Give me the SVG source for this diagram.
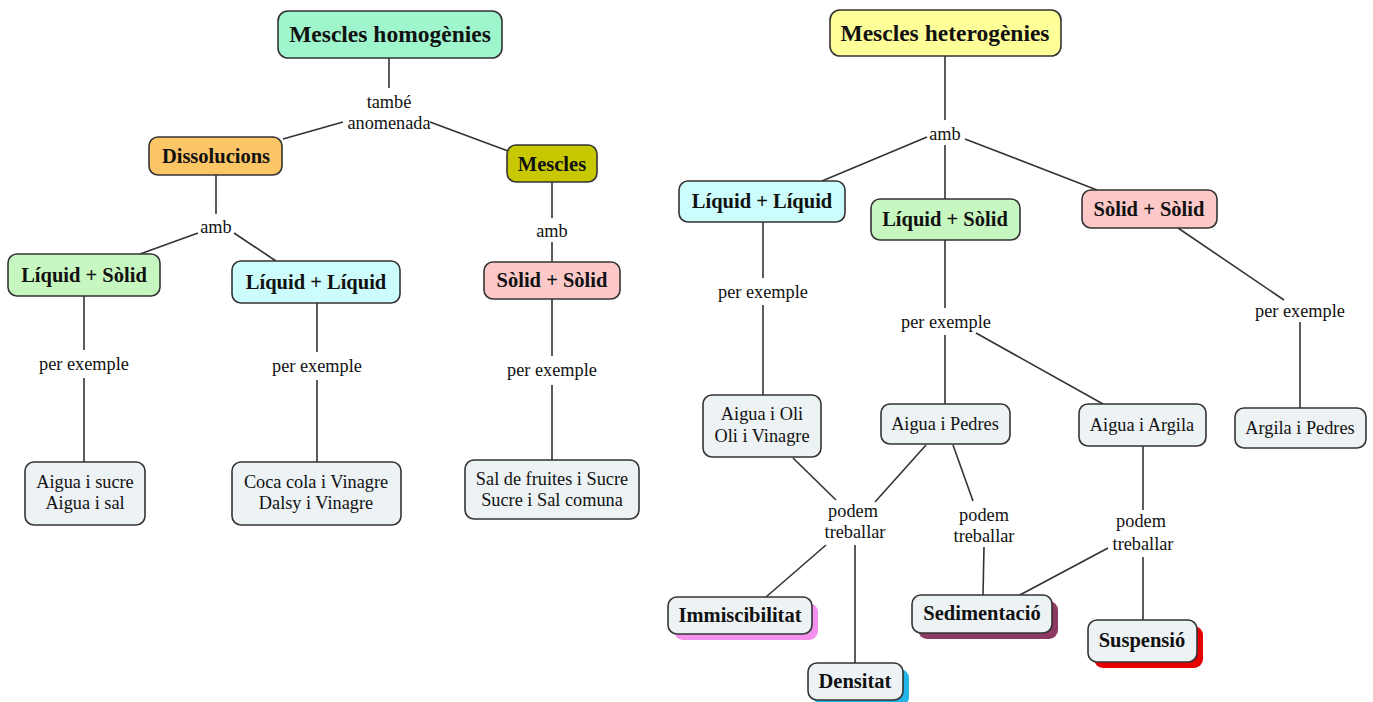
<svg xmlns="http://www.w3.org/2000/svg" width="1373" height="702" viewBox="0 0 1373 702">
<style>
.n{stroke:#333;stroke-width:1.6}
.leaf{fill:#edf2f4}
.t{font-family:"Liberation Serif","Times New Roman",serif;font-size:20.5px;font-weight:bold;fill:#111;text-anchor:middle}
.tt{font-family:"Liberation Serif","Times New Roman",serif;font-size:23.5px;font-weight:bold;fill:#111;text-anchor:middle}
.r{font-family:"Liberation Serif","Times New Roman",serif;font-size:18.3px;fill:#111;text-anchor:middle}
.c line{stroke:#333;stroke-width:1.6}
</style>
<rect width="1373" height="702" fill="#fff"/>
<g class="c" id="connectors">
<line x1="389" y1="58" x2="389" y2="88"/>
<line x1="343" y1="122" x2="283" y2="139"/>
<line x1="430" y1="122" x2="508" y2="151"/>
<line x1="216" y1="175" x2="216" y2="214"/>
<line x1="198" y1="233" x2="140" y2="254"/>
<line x1="234" y1="233" x2="276" y2="261"/>
<line x1="552" y1="182" x2="552" y2="218"/>
<line x1="552" y1="242" x2="552" y2="262"/>
<line x1="84" y1="296" x2="84" y2="350"/>
<line x1="84" y1="378" x2="84" y2="462"/>
<line x1="317" y1="303" x2="317" y2="352"/>
<line x1="317" y1="380" x2="317" y2="462"/>
<line x1="552" y1="299" x2="552" y2="356"/>
<line x1="552" y1="385" x2="552" y2="460"/>
<line x1="945" y1="56" x2="945" y2="120"/>
<line x1="927" y1="137" x2="822" y2="181"/>
<line x1="945" y1="145" x2="945" y2="199"/>
<line x1="965" y1="139" x2="1097" y2="190"/>
<line x1="763" y1="222" x2="763" y2="278"/>
<line x1="763" y1="305" x2="763" y2="396"/>
<line x1="945" y1="240" x2="945" y2="308"/>
<line x1="945" y1="335" x2="945" y2="404"/>
<line x1="976" y1="333" x2="1103" y2="404"/>
<line x1="1178" y1="228" x2="1284" y2="300"/>
<line x1="1300" y1="322" x2="1300" y2="408"/>
<line x1="793" y1="458" x2="836" y2="500"/>
<line x1="926" y1="445" x2="875" y2="502"/>
<line x1="826" y1="545" x2="766" y2="597"/>
<line x1="855" y1="545" x2="855" y2="663"/>
<line x1="953" y1="445" x2="973" y2="501"/>
<line x1="984" y1="547" x2="983" y2="595"/>
<line x1="1143" y1="446" x2="1143" y2="510"/>
<line x1="1108" y1="548" x2="1018" y2="596"/>
<line x1="1143" y1="557" x2="1143" y2="620"/>
</g>
<g id="homogenies"><rect class="n" x="278" y="11" width="224" height="47" rx="10" fill="#9ff5cc"/><text class="tt" x="390" y="42">Mescles homogènies</text></g>
<g id="lbl-tambe"><text class="r" x="389" y="108">també</text><text class="r" x="389" y="129">anomenada</text></g>
<g id="dissolucions"><rect class="n" x="149" y="137" width="133" height="38" rx="9" fill="#fcc565"/><text class="t" x="216" y="163">Dissolucions</text></g>
<g id="mescles"><rect class="n" x="507" y="145" width="90" height="37" rx="9" fill="#c8c800"/><text class="t" x="552" y="171">Mescles</text></g>
<g id="lbl-amb1"><text class="r" x="216" y="233">amb</text></g>
<g id="lbl-amb2"><text class="r" x="552" y="237">amb</text></g>
<g id="ls1"><rect class="n" x="8" y="254" width="152" height="42" rx="9" fill="#c7f7c0"/><text class="t" x="84" y="282">Líquid + Sòlid</text></g>
<g id="ll1"><rect class="n" x="232" y="261" width="168" height="42" rx="9" fill="#ccfcfc"/><text class="t" x="316" y="289">Líquid + Líquid</text></g>
<g id="ss1"><rect class="n" x="484" y="262" width="136" height="37" rx="9" fill="#fcc8c8"/><text class="t" x="552" y="287">Sòlid + Sòlid</text></g>
<g id="lbl-pe1"><text class="r" x="84" y="370">per exemple</text></g>
<g id="lbl-pe2"><text class="r" x="317" y="372">per exemple</text></g>
<g id="lbl-pe3"><text class="r" x="552" y="376">per exemple</text></g>
<g id="leaf1"><rect class="n leaf" x="25" y="462" width="120" height="63" rx="9"/><text class="r" x="85" y="488">Aigua i sucre</text><text class="r" x="85" y="509">Aigua i sal</text></g>
<g id="leaf2"><rect class="n leaf" x="232" y="462" width="169" height="63" rx="9"/><text class="r" x="316" y="488">Coca cola i Vinagre</text><text class="r" x="316" y="509">Dalsy i Vinagre</text></g>
<g id="leaf3"><rect class="n leaf" x="465" y="460" width="174" height="59" rx="9"/><text class="r" x="552" y="485">Sal de fruites i Sucre</text><text class="r" x="552" y="506">Sucre i Sal comuna</text></g>
<g id="heterogenies"><rect class="n" x="830" y="10" width="231" height="46" rx="10" fill="#ffff99"/><text class="tt" x="945" y="41">Mescles heterogènies</text></g>
<g id="lbl-amb3"><text class="r" x="945" y="140">amb</text></g>
<g id="ll2"><rect class="n" x="679" y="181" width="166" height="41" rx="9" fill="#ccfcfc"/><text class="t" x="762" y="208">Líquid + Líquid</text></g>
<g id="ls2"><rect class="n" x="871" y="199" width="149" height="41" rx="9" fill="#c7f7c0"/><text class="t" x="945" y="226">Líquid + Sòlid</text></g>
<g id="ss2"><rect class="n" x="1082" y="190" width="135" height="38" rx="9" fill="#fcc8c8"/><text class="t" x="1149" y="216">Sòlid + Sòlid</text></g>
<g id="lbl-pe4"><text class="r" x="763" y="298">per exemple</text></g>
<g id="lbl-pe5"><text class="r" x="946" y="328">per exemple</text></g>
<g id="lbl-pe6"><text class="r" x="1300" y="317">per exemple</text></g>
<g id="leaf4"><rect class="n leaf" x="703" y="395" width="118" height="62" rx="9"/><text class="r" x="762" y="420">Aigua i Oli</text><text class="r" x="762" y="442">Oli i Vinagre</text></g>
<g id="leaf5"><rect class="n leaf" x="881" y="404" width="129" height="40" rx="9"/><text class="r" x="945" y="430">Aigua i Pedres</text></g>
<g id="leaf6"><rect class="n leaf" x="1079" y="404" width="127" height="42" rx="9"/><text class="r" x="1142" y="431">Aigua i Argila</text></g>
<g id="leaf7"><rect class="n leaf" x="1235" y="408" width="131" height="40" rx="9"/><text class="r" x="1300" y="434">Argila i Pedres</text></g>
<g id="lbl-pt1"><text class="r" x="853" y="517">podem</text><text class="r" x="855" y="538">treballar</text></g>
<g id="lbl-pt2"><text class="r" x="984" y="521">podem</text><text class="r" x="984" y="542">treballar</text></g>
<g id="lbl-pt3"><text class="r" x="1141" y="527">podem</text><text class="r" x="1143" y="550">treballar</text></g>
<g id="immiscibilitat"><rect x="674" y="603" width="144" height="37" rx="9" fill="#f590ec"/><rect class="n leaf" x="668" y="597" width="144" height="37" rx="9"/><text class="t" x="740" y="622">Immiscibilitat</text></g>
<g id="densitat"><rect x="814" y="669" width="95" height="37" rx="9" fill="#22b5e6"/><rect class="n leaf" x="808" y="663" width="95" height="37" rx="9"/><text class="t" x="855" y="688">Densitat</text></g>
<g id="sedimentacio"><rect x="918" y="601" width="140" height="38" rx="9" fill="#8c3a62"/><rect class="n leaf" x="912" y="595" width="140" height="38" rx="9"/><text class="t" x="982" y="620">Sedimentació</text></g>
<g id="suspensio"><rect x="1094" y="626" width="109" height="42" rx="9" fill="#e60000"/><rect class="n leaf" x="1088" y="620" width="109" height="42" rx="9"/><text class="t" x="1142" y="647">Suspensió</text></g>
</svg>
